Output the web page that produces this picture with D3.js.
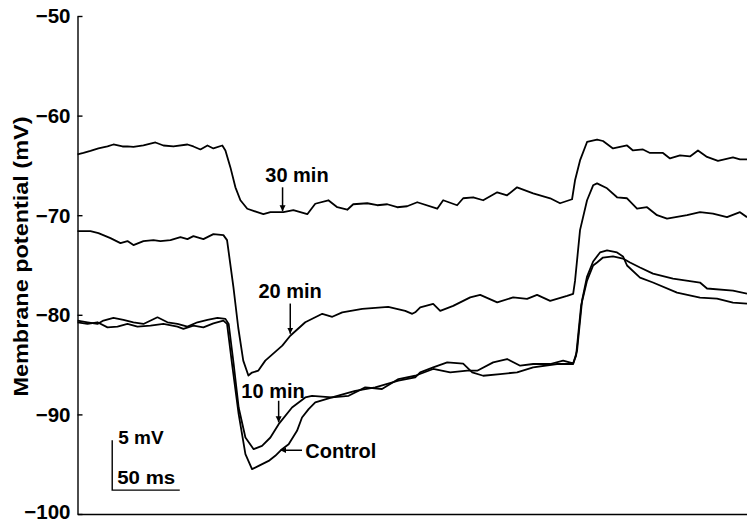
<!DOCTYPE html>
<html>
<head>
<meta charset="utf-8">
<script src="https://cdn.jsdelivr.net/npm/d3@7"></script>
<style>
  html, body { margin: 0; padding: 0; background: #fff; }
  svg { display: block; }
  text { font-family: "Liberation Sans", Arial, Helvetica, sans-serif; font-weight: bold; fill: #000; }
</style>
</head>
<body>
<svg id="chart" width="747" height="523"></svg>
<script>
// ---- Data (time in ms, membrane potential in mV) ----
const yTicks = [-50, -60, -70, -80, -90, -100];

const trace30Time = [0,4.4,9.6,15.5,22.2,26.6,33.3,37,41.4,48.8,57.7,63.6,71,81.4,85.8,91,96.2,100.6,107.2,109.5,113.2,116.9,120.6,125.7,133.1,137.6,142.8,152.4,159.8,170.1,176,185.7,192.3,199.7,204.1,214.5,221.9,229.3,236.7,244,251.5,266.3,270.7,281,285.5,292.9,300.3,310.7,318,325.4,337.3,349.9,357.2,366.1,368.3,372,377.2,384.6,389,396.4,406.8,411.2,418.6,423.8,433.4,438.6,446,453.4,459.3,466,474.1,485.2,490.4,495.6];
const trace30Value = [-63.9,-63.75,-63.55,-63.3,-63.1,-62.9,-63.1,-63.1,-63.15,-63.0,-62.7,-63.0,-63.1,-62.9,-63.1,-63.4,-63.0,-63.3,-63.0,-63.5,-65.2,-67.2,-68.5,-69.35,-69.7,-69.9,-69.7,-69.7,-69.5,-69.9,-68.85,-68.5,-69.2,-69.45,-68.9,-68.8,-69.0,-68.9,-69.2,-69.1,-68.7,-69.35,-68.5,-69.0,-68.3,-68.2,-68.5,-67.7,-68.0,-67.2,-67.8,-68.3,-68.8,-68.4,-66.5,-64.5,-62.65,-62.4,-62.55,-63.3,-63.0,-63.5,-63.4,-63.75,-63.75,-64.3,-64.0,-64.1,-63.5,-64.15,-64.55,-64.2,-64.4,-64.4];

const trace20Time = [0,9.6,15.5,24.4,31.8,37,41.4,48.8,56.2,61.4,68.8,76.2,81.4,85.8,93.2,100.6,108,110.7,115.4,119,122.7,126.5,129.2,133.9,139,151.6,157.5,168.6,181.2,188.6,196,210.8,230,242.6,247.8,250,253.7,263.3,268.5,278.1,290.7,298.1,310.7,322.5,332.8,340.2,349.9,362.4,366.9,368.3,372,377.2,381.7,384.6,392,399.4,406.8,414.2,421.6,429,436.4,451.2,460.8,470.4,480.8,490.4,495.6];
const trace20Value = [-71.6,-71.6,-71.8,-72.3,-72.8,-72.6,-73.0,-72.6,-72.5,-72.6,-72.5,-72.2,-72.4,-72.1,-72.4,-71.9,-72.0,-72.5,-77.2,-81.3,-84.6,-86.1,-85.8,-85.6,-84.6,-83.1,-82.1,-80.75,-79.9,-80.2,-79.75,-79.4,-79.2,-79.6,-79.9,-79.75,-79.25,-78.9,-79.6,-79.1,-78.25,-78.0,-78.75,-78.25,-78.4,-78.0,-78.6,-78.1,-77.9,-76.6,-71.5,-68.5,-67.0,-66.8,-67.3,-68.2,-68.3,-69.35,-69.2,-70.0,-70.35,-70.0,-69.7,-69.85,-70.2,-69.7,-70.2];

const trace10Time = [0,7.4,14.8,19.2,26.6,34,41.4,48.8,59.2,66.6,74,81.4,88.8,96.2,103.6,109.5,111.9,115.6,119.3,124.3,130.4,136.6,142.8,148.9,158.8,168.6,173.6,188.4,205.6,220.4,237.6,250,253.7,263.3,273.7,285.5,292.2,300.3,312.9,325.4,337.3,355,366.9,369.8,373.5,377.2,381.7,386.8,392,399.4,403.8,406.8,416.4,426,443.8,460.8,473.4,485.2,495.6];
const trace10Value = [-80.58,-80.75,-80.92,-80.58,-80.31,-80.51,-80.75,-80.92,-80.25,-80.75,-80.92,-81.19,-80.75,-80.51,-80.31,-80.41,-80.92,-84.94,-89.31,-92.32,-93.49,-93.16,-92.32,-90.98,-89.31,-88.3,-88.13,-88.3,-87.63,-87.29,-86.62,-86.29,-85.78,-85.28,-84.78,-84.91,-85.78,-86.12,-85.95,-85.78,-85.28,-84.94,-84.94,-83.6,-78.57,-76.16,-74.65,-73.74,-73.54,-73.74,-74.14,-75.05,-76.26,-76.76,-77.77,-78.27,-78.37,-78.77,-78.87];

const traceCtlTime = [0,7.4,14.8,22.2,29.6,37,44.4,54,63.6,74,78.4,85.8,93.2,100.6,108,110.7,114.4,119.3,124.3,129.2,134.1,141.5,146.4,151.4,156.3,162.5,166.2,171.1,176,188.4,200.7,213,225.4,237.6,250,263.3,275.9,288.5,295.9,307.7,318,327.7,337.3,349.9,359.5,366.9,369.1,372.8,377.2,381.7,384.6,389,396.4,403.8,409,416.4,426,440.8,460.8,466,485.2,495.6];
const traceCtlValue = [-80.75,-80.92,-80.75,-81.26,-81.19,-80.92,-81.19,-81.09,-80.92,-81.19,-81.42,-81.09,-81.26,-80.86,-80.58,-80.92,-84.94,-89.97,-93.99,-95.5,-95.17,-94.67,-94.16,-93.49,-92.99,-91.65,-90.31,-89.47,-88.8,-88.3,-88.13,-87.29,-87.45,-86.45,-86.12,-85.44,-85.78,-85.61,-85.61,-84.78,-84.44,-85.11,-84.94,-84.94,-84.61,-84.88,-84.1,-79.07,-76.56,-75.05,-74.75,-74.25,-74.14,-74.35,-74.75,-75.25,-75.86,-76.36,-76.76,-77.36,-77.57,-77.87];

// annotations: label text position (t, v) and arrow from/to (t, v)
const labelNames = ["30 min", "20 min", "10 min", "Control"];
const labelTime  = [139.0, 133.9, 121.3, 168.6];
const labelValue = [-66.7, -78.27, -88.33, -94.37];
const arrowFromTime  = [151.8, 157.5, 148.9, 166.2];
const arrowFromValue = [-67.2, -78.87, -88.63, -93.6];
const arrowToTime    = [151.8, 157.5, 148.9, 150.1];
const arrowToValue   = [-69.6, -81.9, -90.8, -93.6];

// scale bar: 5 mV, 50 ms
const scaleBarOrigin = [25.7, -97.6];
const scaleBarSize = [50, 5];
const scaleBarLabels = ["5 mV", "50 ms"];

// ---- Drawing ----
const svg = d3.select("#chart");
const x = d3.scaleLinear().domain([0, 495.6]).range([77.5, 747]);
const y = d3.scaleLinear().domain([-50, -100]).range([16, 514]);

const traces = [
  d3.zip(trace30Time, trace30Value),
  d3.zip(trace20Time, trace20Value),
  d3.zip(trace10Time, trace10Value),
  d3.zip(traceCtlTime, traceCtlValue)
];

const line = d3.line().x(d => x(d[0])).y(d => y(d[1]));

svg.append("g").selectAll("path").data(traces).join("path")
  .attr("d", line)
  .attr("fill", "none")
  .attr("stroke", "#000")
  .attr("stroke-width", 1.8)
  .attr("stroke-linejoin", "round");

// Y axis
const yAxis = d3.axisLeft(y).tickValues(yTicks).tickSize(-5).tickSizeOuter(0).tickPadding(7)
  .tickFormat(d3.format("d"));
const gy = svg.append("g").attr("transform", `translate(${x.range()[0]},0)`).call(yAxis);
gy.select(".domain").attr("stroke", "#000").attr("stroke-width", 1.4);
gy.selectAll(".tick line").attr("stroke", "#000").attr("stroke-width", 1.4);
gy.selectAll(".tick text").attr("font-size", 20.5).attr("font-weight", "bold")
  .attr("font-family", '"Liberation Sans", Arial, sans-serif').attr("fill", "#000")
  .attr("dy", d => d === -100 ? "0.2em" : "0.34em");

// X axis (plain baseline)
const xAxis = d3.axisBottom(x).tickValues([]).tickSizeOuter(0);
const gx = svg.append("g").attr("transform", `translate(0,${y(-100)})`).call(xAxis);
gx.select(".domain").attr("stroke", "#000").attr("stroke-width", 1.4);

// Y axis title
svg.append("text")
  .attr("transform", `translate(28,${(y(-60.0) + y(-88.3)) / 2}) rotate(-90)`)
  .attr("text-anchor", "middle")
  .attr("font-size", 21)
  .attr("textLength", 280)
  .attr("lengthAdjust", "spacingAndGlyphs")
  .text("Membrane potential (mV)");

// Arrow marker
svg.append("defs").append("marker")
  .attr("id", "arrow")
  .attr("viewBox", "0 0 10 10")
  .attr("refX", 10).attr("refY", 5)
  .attr("markerUnits", "userSpaceOnUse")
  .attr("markerWidth", 6).attr("markerHeight", 8)
  .attr("orient", "auto")
  .append("path").attr("d", "M0,0 L10,5 L0,10 Z").attr("fill", "#000");

const ann = labelNames.map((name, i) => ({
  name, tx: labelTime[i], tv: labelValue[i],
  ft: arrowFromTime[i], fv: arrowFromValue[i], tt: arrowToTime[i], tvv: arrowToValue[i]
}));

const ga = svg.append("g");
ga.selectAll("text").data(ann).join("text")
  .attr("x", d => x(d.tx)).attr("y", d => y(d.tv))
  .attr("font-size", 20)
  .text(d => d.name);
ga.selectAll("line").data(ann).join("line")
  .attr("x1", d => x(d.ft)).attr("y1", d => y(d.fv))
  .attr("x2", d => x(d.tt)).attr("y2", d => y(d.tvv))
  .attr("stroke", "#000").attr("stroke-width", 1.5)
  .attr("marker-end", "url(#arrow)");

// Scale bar
const sb = svg.append("g");
const sx0 = x(scaleBarOrigin[0]), sy0 = y(scaleBarOrigin[1]);
const sx1 = x(scaleBarOrigin[0] + scaleBarSize[0]), sy1 = y(scaleBarOrigin[1] + scaleBarSize[1]);
sb.append("path")
  .attr("d", `M${sx0},${sy1} L${sx0},${sy0} L${sx1},${sy0}`)
  .attr("fill", "none").attr("stroke", "#000").attr("stroke-width", 1.4);
sb.append("text").attr("x", sx0 + 6).attr("y", sy1 + 4).attr("font-size", 19)
  .text(scaleBarLabels[0]);
sb.append("text").attr("x", sx0 + 5).attr("y", sy0 - 6).attr("font-size", 19)
  .attr("textLength", 58).attr("lengthAdjust", "spacingAndGlyphs").text(scaleBarLabels[1]);
</script>
</body>
</html>
